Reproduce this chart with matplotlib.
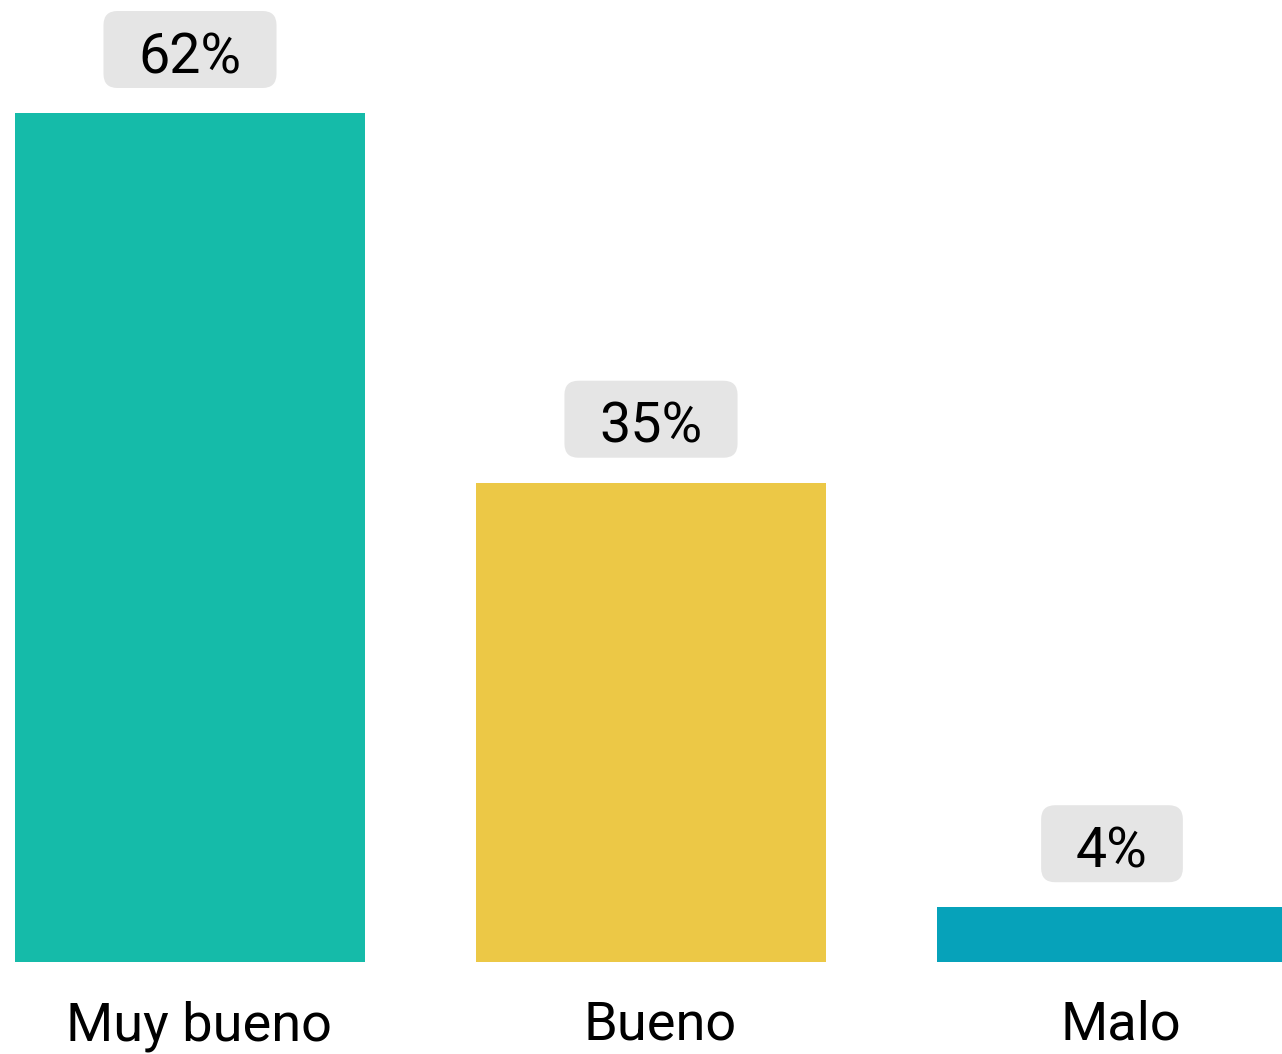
import matplotlib.pyplot as plt
from matplotlib.patches import FancyBboxPatch
from matplotlib.transforms import IdentityTransform
import numpy as np

plt.rcParams['font.family'] = ['Roboto', 'DejaVu Sans']

categorias = ['Muy bueno', 'Bueno', 'Malo']
valores = [62, 35, 4]
etiquetas = ['62%', '35%', '4%']
colores = ['#15BBA9', '#ECC846', '#06A2BA']

W, H = 1282, 1054
fig = plt.figure(figsize=(W / 100, H / 100), dpi=100)
ax = fig.add_axes([0, (H - 962) / H, 1, 962 / H])

x = np.arange(len(categorias))
ax.bar(x, valores, width=0.76, color=colores)
ax.set_xlim(-190 / 461, (1282 - 190) / 461)
ax.set_ylim(0, 962 / (849 / 62))
ax.axis('off')

textos = []
for xi, v, lab in zip(x, valores, etiquetas):
    t = ax.annotate(lab, (xi, v), xytext=(0, 40 * 0.72), textcoords='offset points',
                    ha='center', va='baseline', fontsize=40, color='black', zorder=6,
                    annotation_clip=False)
    textos.append(t)

for xi, cat in zip(x, categorias):
    ax.annotate(cat, (xi, 0), xytext=(9 * 0.72, -78 * 0.72), textcoords='offset points',
                ha='center', va='baseline', fontsize=39, color='black',
                annotation_clip=False)

fig.canvas.draw()
r = fig.canvas.get_renderer()
for t, xi, v in zip(textos, x, valores):
    bb = t.get_window_extent(r)
    base = ax.transData.transform((xi, v))[1] + 40
    x0 = bb.x0 - 35
    w = bb.width + 70
    y0 = base - 15
    h = 77
    box = FancyBboxPatch((x0 + 14, y0 + 14), w - 28, h - 28,
                         boxstyle='round,pad=14', transform=IdentityTransform(),
                         facecolor='#E5E5E5', edgecolor='none', zorder=4, clip_on=False)
    ax.add_artist(box)

fig.savefig('out.png', dpi=100)
